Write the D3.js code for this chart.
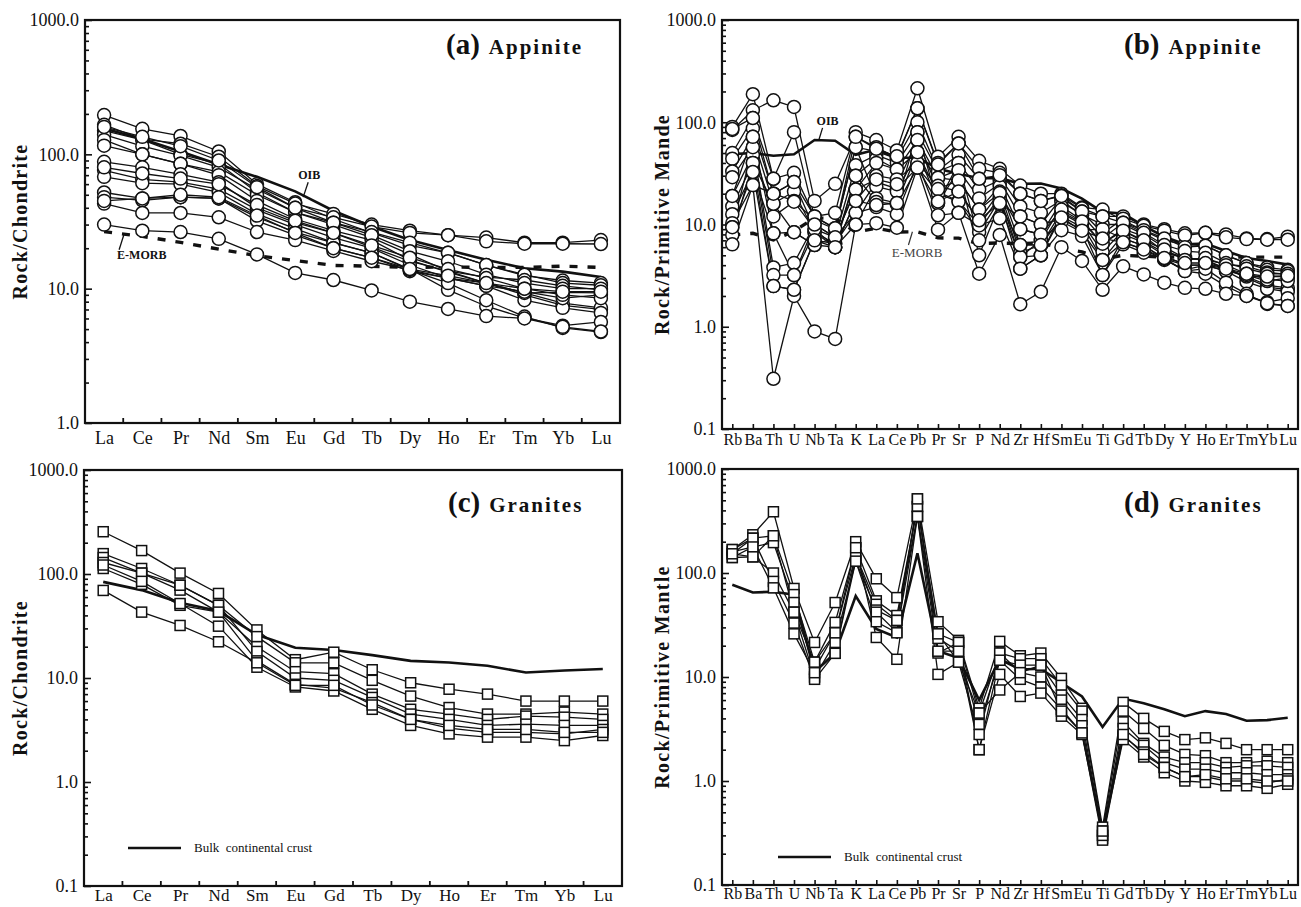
<!DOCTYPE html>
<html>
<head>
<meta charset="utf-8">
<script src="https://cdn.jsdelivr.net/npm/d3@7"></script>
<style>
  body { margin: 0; background: #fff; }
  svg { display: block; }
  text { font-family: "Liberation Serif", "Times New Roman", serif; fill: #111; }
</style>
</head>
<body>
<div id="chart"></div>
<script>
// REE pattern categories (chondrite normalised)
const reeNames = ["La", "Ce", "Pr", "Nd", "Sm", "Eu", "Gd", "Tb", "Dy", "Ho", "Er", "Tm", "Yb", "Lu"];
// spider diagram categories (primitive mantle normalised)
const spiderNames = ["Rb", "Ba", "Th", "U", "Nb", "Ta", "K", "La", "Ce", "Pb", "Pr", "Sr", "P", "Nd",
  "Zr", "Hf", "Sm", "Eu", "Ti", "Gd", "Tb", "Dy", "Y", "Ho", "Er", "Tm", "Yb", "Lu"];

const yTicks = [0.1, 1, 10, 100, 1000];

// (a) appinite, chondrite normalised
const appiniteREE = [
  [196, 155, 137, 105, 60, 44, 33, 26, 21, 18.5, 15, 12.5, 11.5, 11],
  [166, 130, 120, 96, 58, 43, 36, 30, 27, 25, 24, 22, 22, 23],
  [150, 128, 100, 85, 52, 37, 30, 24, 18, 13.5, 11, 9, 7.5, 7],
  [140, 115, 98, 80, 55, 40, 34, 29, 26, 25, 22.5, 21.6, 21.6, 21.5],
  [128, 100, 85, 74, 50, 37, 31, 26.4, 22, 18.5, 15, 12.7, 11, 10.6],
  [116, 100, 85, 70, 45, 33, 27, 23, 16.3, 13.3, 11, 9.3, 7.8, 7.2],
  [88, 80, 71, 62, 40, 31, 26, 20.4, 16, 13.5, 12.2, 11.6, 10.5, 9.8],
  [76, 65, 62, 55, 38.6, 30, 24, 20, 15, 12, 10.5, 8.2, 7.2, 6.6],
  [68, 61, 60, 52, 36, 28, 22, 18.5, 13.8, 12, 11, 9.3, 9.4, 9.3],
  [52, 47, 48, 47, 34, 26.4, 21.9, 18.5, 14, 9.8, 7.4, 6.05, 5.3, 5.65],
  [48, 45.5, 48, 47, 32, 25, 20, 17, 13.5, 12, 10.5, 9.5, 8.5, 9],
  [43, 36.6, 36.6, 34, 26.4, 23, 19.1, 16, 13.8, 11, 8.2, 6.2, 5.1, 4.75],
  [30, 27, 26.4, 23.5, 18, 13.1, 11.6, 9.7, 8, 7.06, 6.25, 6, 5.2, 4.8],
  [160, 135, 115, 90, 57, 40, 31, 25, 19, 16, 12.7, 11, 10, 10],
  [80, 72, 66, 60, 42, 32, 26, 21, 17, 14, 12, 10, 9, 8.5],
  [45, 47, 50, 48, 35, 26, 20, 17, 14, 12.5, 11, 10, 9.5, 9.5]
];
const oibREE = [156, 130, 105, 84, 68, 53, 38, 29, 23, 19.4, 16.4, 14.2, 13.4, 12.2];
const emorbREE = [26.6, 24.5, 22.1, 19.7, 17.6, 16.2, 14.9, 14.7, 14.4, 14.5, 14.4, 14.4, 14.7, 14.4];

// (b) appinite, primitive mantle normalised
const appiniteSpider = [
  [90, 188, 28, 32, 12, 13, 80, 67, 53, 215, 46, 72, 42, 35, 24, 20, 20, 14.7, 14, 11, 8.7, 7, 6.4, 6.2, 5, 4.2, 3.8, 3.6],
  [84, 131, 164, 141, 17, 25, 72, 57, 45, 137, 40, 62, 35, 32, 20, 17, 19.3, 14.4, 12, 12, 10, 9, 8.2, 8.3, 8, 7.3, 7.2, 7.6],
  [50, 110, 28, 80, 11.8, 9.2, 57, 52, 44, 100, 34, 48, 28, 29, 15, 13, 17.3, 12.4, 10, 10, 8, 6, 4.7, 4.5, 3.7, 3, 2.45, 2.3],
  [44, 87, 20, 26, 9, 7.5, 38, 48, 40, 80, 33, 40, 22, 27, 12, 10, 18.3, 13.4, 8.2, 11.4, 9.7, 8.7, 7.8, 8.3, 7.5, 7.2, 7.1, 7.1],
  [33, 72, 16, 21, 8.4, 6.5, 30, 44, 34.5, 67, 28.6, 34, 18, 25, 9, 8, 16.7, 12.4, 7.3, 10.4, 8.8, 7.3, 6, 6.2, 5, 4.2, 3.6, 3.5],
  [29, 57, 3.8, 4.2, 10, 7.5, 22, 40, 34.5, 51, 28.6, 27, 14, 23.6, 6.3, 7, 15, 11, 6.5, 9, 7.7, 5.4, 4.8, 4.4, 3.7, 3.1, 2.55, 2.4],
  [19, 48, 3.2, 3.2, 8.4, 6, 17, 30, 27.6, 40, 23.9, 21, 11, 21, 5.3, 6.3, 13.3, 10.4, 5.4, 8.7, 6.8, 5.3, 4.7, 4.5, 4.1, 3.9, 3.4, 3.25],
  [15, 40, 2.5, 2.3, 7, 6.5, 13, 26, 22.4, 36, 20.8, 17, 9.8, 18.6, 4.8, 5, 12.9, 10, 4.5, 8, 6.7, 5, 4, 4, 3.5, 2.75, 2.35, 2.2],
  [12.6, 32.6, 8.2, 8.4, 6.3, 6, 10, 23.5, 21, 51, 20, 16.7, 8.4, 17.5, 3.7, 5, 12, 9.4, 3.2, 7.3, 6.2, 4.6, 4, 4, 3.7, 3.1, 3.1, 3.1],
  [10.3, 24.3, 20, 17, 11, 9, 57, 18, 16.2, 80, 16.1, 40, 7, 15.9, 12, 10, 11.3, 8.8, 9, 7.3, 6.2, 4.7, 3.5, 3.3, 2.5, 2, 1.74, 1.9],
  [9.4, 57, 12, 16.7, 9, 6, 30, 16.6, 15.7, 36, 16.1, 34, 5, 15.9, 4.8, 7, 10.7, 8.4, 4.5, 6.7, 5.7, 4.5, 3.6, 4, 3.5, 3.2, 2.8, 3],
  [7.9, 40, 16, 8.4, 6.3, 7.5, 13, 14.8, 12.6, 40, 12.3, 13, 9.8, 11.5, 3.7, 5, 8.8, 7.7, 3.2, 6.4, 5.3, 4.6, 3.5, 3.7, 2.7, 2.1, 1.67, 1.6],
  [6.4, 24.3, 0.31, 2, 0.9, 0.76, 10, 10.3, 9.3, 36, 8.9, 13, 3.3, 7.9, 1.66, 2.2, 6, 4.4, 2.3, 3.9, 3.25, 2.7, 2.4, 2.35, 2.1, 2, 1.7, 1.6],
  [86, 110, 20, 26, 12, 9.2, 72, 55, 46.5, 137, 38.6, 62, 28, 30.4, 20, 17, 19, 13.4, 12, 10.4, 8.3, 6.3, 5.5, 5.3, 4.2, 3.7, 3.3, 3.3],
  [19, 72, 8.2, 3.2, 10, 7.5, 22, 27.6, 24.8, 67, 22.2, 27, 14, 20.3, 9, 8, 14, 10.7, 6.5, 8.7, 7, 5.7, 4.5, 4.7, 4, 3.3, 2.9, 2.8],
  [9.4, 32.6, 2.5, 2.3, 7, 6, 17, 15.5, 16.2, 51, 16.8, 21, 11, 16.2, 6.3, 6.3, 11.7, 8.7, 7.3, 6.7, 5.7, 4.7, 4.2, 4.2, 3.7, 3.3, 3.1, 3.15]
];
const oibSpider = [48.8, 50, 47, 48.6, 67, 66, 48, 54, 45, 45, 35, 31.3, 28.4, 28.4, 25, 25.2, 22.5, 17.9, 13.2, 12.8, 9.7, 7.6, 6.4, 6.5, 5.5, 4.7, 4.4, 4.05];
const emorbSpider = [7.9, 8.2, 7.06, 8.6, 11.6, 11.5, 8.4, 9.2, 8.45, 8.5, 7.4, 7.35, 6.5, 6.6, 6.5, 6.6, 5.86, 5.4, 4.6, 5.0, 4.9, 4.8, 4.8, 4.8, 4.8, 4.8, 4.8, 4.8];

// (c) granites, chondrite normalised
const graniteREE = [
  [255, 168, 102, 65, 29, 15, 17.7, 12, 9, 7.8, 7, 6, 6, 6],
  [157, 113, 78, 50, 25, 14, 14, 9.5, 6.7, 5.2, 4.5, 4.5, 4.7, 4.5],
  [144, 102, 70, 43, 20, 11.5, 11, 7, 5, 4.5, 4, 4.3, 4.2, 4],
  [129, 102, 78, 50, 18, 10, 9.5, 6.5, 4.5, 4, 3.5, 3.6, 3.5, 3.5],
  [113, 79.5, 50, 43, 14.6, 8.7, 8, 5.8, 4, 3.3, 3, 3, 2.9, 3.2],
  [122, 85, 52, 31.5, 12.7, 8.2, 7.5, 5, 3.5, 2.9, 2.7, 2.7, 2.5, 2.8],
  [69.5, 43, 32, 22.3, 14, 8.5, 8.5, 5.5, 4, 3.5, 3.2, 3.2, 3, 3]
];
const crustREE = [84, 70, 53, 44, 26, 19.5, 18.6, 16.6, 14.6, 14.1, 13.1, 11.3, 11.8, 12.2];

// (d) granites, primitive mantle normalised
const graniteSpider = [
  [168, 233, 388, 71, 21.5, 52, 200, 88, 58, 516, 34, 22.5, 5, 22, 16, 17, 9.7, 5, 0.36, 5.7, 4, 3, 2.5, 2.6, 2.3, 2, 2, 2],
  [153, 216, 228, 62, 13.9, 33.5, 175, 54, 39, 436, 26, 21.5, 4.5, 17, 15, 15, 8.3, 4.7, 0.33, 4.7, 3.2, 2.2, 1.8, 1.75, 1.5, 1.5, 1.55, 1.5],
  [160, 178, 196, 52, 11.9, 26.6, 148, 50, 35, 350, 23.5, 17.7, 3.5, 14.5, 13, 13, 6.7, 3.9, 0.3, 3.7, 2.3, 1.7, 1.5, 1.5, 1.35, 1.4, 1.4, 1.35],
  [141, 143, 100, 42, 10, 21.5, 130, 44, 35, 436, 26, 13.9, 2.8, 17, 11, 10, 6, 3.4, 0.28, 3.2, 2.2, 1.5, 1.3, 1.3, 1.2, 1.2, 1.15, 1.15],
  [168, 216, 83, 33, 9.5, 16.9, 148, 42, 27, 350, 17, 21.5, 2, 14.5, 9.5, 8, 4.9, 2.9, 0.27, 2.7, 1.9, 1.35, 1.1, 1.1, 1, 1, 0.95, 1.05],
  [141, 178, 72, 26, 11, 16.9, 130, 34, 26.6, 516, 17.7, 17.7, 2, 10.6, 6.5, 7, 4.2, 2.8, 0.3, 2.5, 1.7, 1.2, 1, 0.97, 0.9, 0.9, 0.85, 0.93],
  [153, 143, 228, 42, 13.9, 26.6, 175, 24, 14.8, 350, 10.6, 13.9, 4.5, 7.5, 11, 13, 4.7, 2.9, 0.33, 2.8, 1.8, 1.35, 1.1, 1.15, 1.05, 1.05, 1, 1]
];
const crustSpider = [77, 65, 66, 62, 11.2, 17, 60, 29, 24, 155, 17.8, 15.2, 6, 14.8, 11.8, 12, 8.8, 6.5, 3.3, 6.2, 5.6, 4.9, 4.2, 4.7, 4.4, 3.8, 3.85, 4.05];

const svg = d3.select("#chart").append("svg")
  .attr("width", 1301)
  .attr("height", 907);

function drawPanel(p) {
  const x = d3.scalePoint().domain(p.cats).range([p.left, p.right]).padding(0.5);
  const y = d3.scaleLog().domain([p.ymin, 1000]).range([p.bottom, p.top]);
  const g = svg.append("g").style("color", "#111");

  // log axis: minor then major ticks, pointing inwards
  const majors = yTicks.filter((v) => v >= p.ymin);
  const minors = [];
  majors.slice(0, -1).forEach((m) => {
    for (let k = 2; k < 10; k++) minors.push(m * k);
  });
  g.append("g")
    .attr("transform", `translate(${p.left},0)`)
    .call(d3.axisLeft(y).tickValues(minors).tickSize(-4).tickFormat(""))
    .call((s) => s.select(".domain").remove())
    .selectAll("line").attr("stroke-width", 1.6);
  const ya = g.append("g")
    .attr("transform", `translate(${p.left},0)`)
    .call(d3.axisLeft(y).tickValues(majors).tickSize(-7).tickPadding(6).tickFormat(d3.format(".1f")));
  ya.select(".domain").remove();
  ya.selectAll("line").attr("stroke-width", 1.6);
  ya.selectAll("text").style("font-size", "18px").attr("font-family", null);

  // category axis
  const xAxis = d3.axisBottom(x).tickPadding(p.xPad);
  xAxis.tickSize(p.between ? 0 : -5);
  const xa = g.append("g")
    .attr("transform", `translate(0,${p.bottom})`)
    .call(xAxis);
  xa.select(".domain").remove();
  xa.selectAll("line").attr("stroke-width", 1.6);
  xa.selectAll("text").style("font-size", p.xFont + "px").attr("font-family", null);
  if (p.between) {
    g.append("g").selectAll("line")
      .data(p.cats.slice(1))
      .enter()
      .append("line")
      .attr("x1", (d) => x(d) - x.step() / 2)
      .attr("x2", (d) => x(d) - x.step() / 2)
      .attr("y1", p.bottom)
      .attr("y2", p.bottom - 5)
      .attr("stroke", "#111")
      .attr("stroke-width", 1.8);
  }

  // frame
  g.append("rect")
    .attr("x", p.left)
    .attr("y", p.top)
    .attr("width", p.right - p.left)
    .attr("height", p.bottom - p.top)
    .attr("fill", "none")
    .attr("stroke", "#111")
    .attr("stroke-width", 2.2);

  const line = d3.line()
    .x((d, i) => x(p.cats[i]))
    .y((d) => y(d));

  // reference patterns
  p.refs.forEach((r) => {
    g.append("path")
      .attr("d", line(r.values))
      .attr("fill", "none")
      .attr("stroke", "#111")
      .attr("stroke-width", r.width)
      .attr("stroke-dasharray", r.dash || null);
  });

  // samples
  p.samples.forEach((s) => {
    g.append("path")
      .attr("d", line(s))
      .attr("fill", "none")
      .attr("stroke", "#111")
      .attr("stroke-width", 1.3);
  });

  p.samples.forEach((s) => {
    const pts = s.map((v, i) => ({ c: p.cats[i], v: v }));
    if (p.marker === "circle") {
      g.append("g").selectAll("circle")
        .data(pts)
        .enter()
        .append("circle")
        .attr("cx", (d) => x(d.c))
        .attr("cy", (d) => y(d.v))
        .attr("r", p.msize)
        .attr("fill", "#fff")
        .attr("stroke", "#111")
        .attr("stroke-width", 1.5);
    } else {
      g.append("g").selectAll("rect")
        .data(pts)
        .enter()
        .append("rect")
        .attr("x", (d) => x(d.c) - p.msize / 2)
        .attr("y", (d) => y(d.v) - p.msize / 2)
        .attr("width", p.msize)
        .attr("height", p.msize)
        .attr("fill", "#fff")
        .attr("stroke", "#111")
        .attr("stroke-width", 1.5);
    }
  });

  // y title
  g.append("text")
    .attr("transform", `translate(${p.titleX},${(p.top + p.bottom) / 2}) rotate(-90)`)
    .attr("text-anchor", "middle")
    .style("font-size", "20px")
    .style("font-weight", "bold")
    .style("letter-spacing", "1.3px")
    .text(p.ytitle);

  // panel label
  const lab = g.append("text")
    .attr("x", p.right - 174)
    .attr("y", p.labelY);
  lab.append("tspan").style("font-size", "29px").style("font-weight", "bold").text(p.letter);
  lab.append("tspan").attr("dx", 9).style("font-size", "21px").style("font-weight", "bold")
    .style("letter-spacing", "2px").text(p.name);

  return { g: g, x: x, y: y };
}

// (a)
const pa = drawPanel({
  left: 85, right: 620, top: 20, bottom: 423, ymin: 1,
  cats: reeNames, between: true, xPad: 8, xFont: 18,
  samples: appiniteREE, marker: "circle", msize: 6.5,
  refs: [{ values: oibREE, width: 2.6 }, { values: emorbREE, width: 3.4, dash: "8,10" }],
  ytitle: "Rock/Chondrite", titleX: 27, labelY: 54, letter: "(a)", name: "Appinite"
});
pa.g.append("text").attr("x", pa.x("Eu") + 3).attr("y", pa.y(66))
  .style("font-size", "12px").style("font-weight", "bold").text("OIB");
pa.g.append("line")
  .attr("x1", pa.x("Eu") + 13).attr("y1", pa.y(62))
  .attr("x2", pa.x("Eu") + 8).attr("y2", pa.y(48))
  .attr("stroke", "#111").attr("stroke-width", 1.3);
pa.g.append("text").attr("x", pa.x("La") + 13).attr("y", pa.y(16.6))
  .style("font-size", "12px").style("font-weight", "bold").text("E-MORB");
pa.g.append("line")
  .attr("x1", pa.x("La") + 20).attr("y1", pa.y(25.5))
  .attr("x2", pa.x("La") + 15).attr("y2", pa.y(19.5))
  .attr("stroke", "#111").attr("stroke-width", 1.3);

// (b)
const pb = drawPanel({
  left: 722, right: 1298, top: 20, bottom: 429, ymin: 0.1,
  cats: spiderNames, between: false, xPad: 5, xFont: 16,
  samples: appiniteSpider, marker: "circle", msize: 6.5,
  refs: [{ values: oibSpider, width: 2.6 }, { values: emorbSpider, width: 3.4, dash: "8,10" }],
  ytitle: "Rock/Primitive Mande", titleX: 669, labelY: 54, letter: "(b)", name: "Appinite"
});
pb.g.append("text").attr("x", pb.x("Nb") + 2).attr("y", pb.y(95))
  .style("font-size", "12px").style("font-weight", "bold").text("OIB");
pb.g.append("line")
  .attr("x1", pb.x("Nb") + 8).attr("y1", pb.y(88))
  .attr("x2", pb.x("Nb") + 4).attr("y2", pb.y(66))
  .attr("stroke", "#111").attr("stroke-width", 1.3);
pb.g.append("text").attr("x", pb.x("Ce") - 5).attr("y", pb.y(4.8))
  .style("font-size", "13px").style("fill", "#444").text("E-MORB");
pb.g.append("line")
  .attr("x1", pb.x("Pb") - 5).attr("y1", pb.y(8.5))
  .attr("x2", pb.x("Pb") - 9).attr("y2", pb.y(6.3))
  .attr("stroke", "#333").attr("stroke-width", 1.2);

// (c)
const pc = drawPanel({
  left: 84, right: 622, top: 470, bottom: 886, ymin: 0.1,
  cats: reeNames, between: true, xPad: 3, xFont: 17,
  samples: graniteREE, marker: "square", msize: 10,
  refs: [{ values: crustREE, width: 2.6 }],
  ytitle: "Rock/Chondrite", titleX: 27, labelY: 512, letter: "(c)", name: "Granites"
});

// (d)
const pd = drawPanel({
  left: 722, right: 1298, top: 469, bottom: 885, ymin: 0.1,
  cats: spiderNames, between: false, xPad: 3, xFont: 16,
  samples: graniteSpider, marker: "square", msize: 10,
  refs: [{ values: crustSpider, width: 2.6 }],
  ytitle: "Rock/Primitive Mantle", titleX: 669, labelY: 512, letter: "(d)", name: "Granites"
});

// legends
[[pc, 128, 848], [pd, 778, 857]].forEach(([p, lx, ly]) => {
  p.g.append("line")
    .attr("x1", lx).attr("x2", lx + 53).attr("y1", ly).attr("y2", ly)
    .attr("stroke", "#111").attr("stroke-width", 2.6);
  p.g.append("text")
    .attr("x", lx + 66).attr("y", ly + 4)
    .style("font-size", "13px")
    .style("white-space", "pre")
    .text("Bulk  continental crust");
});
</script>
</body>
</html>
